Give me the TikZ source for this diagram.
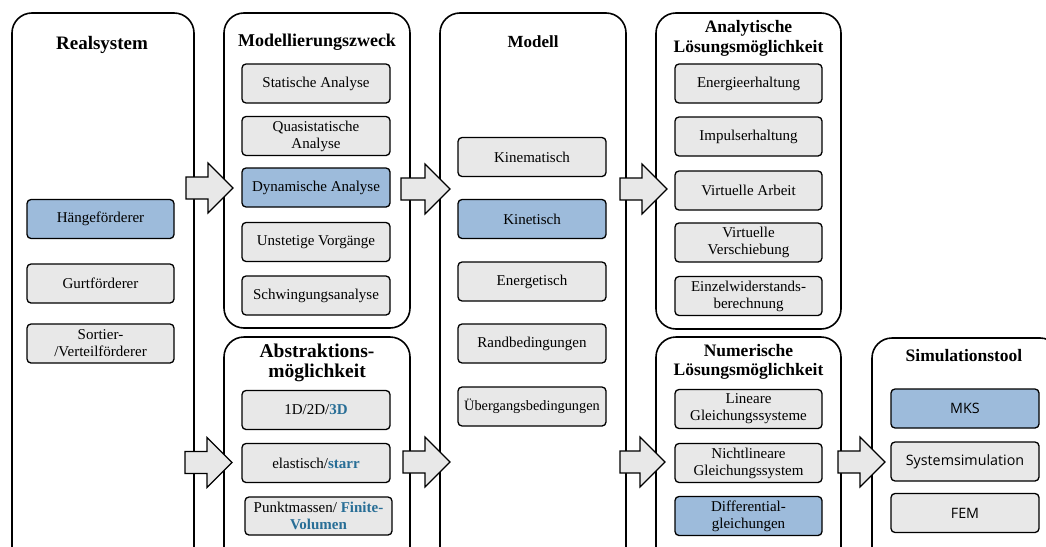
\documentclass[tikz,border=0pt]{standalone}
\usepackage{fontspec}
\setmainfont{Liberation Serif}
\newfontfamily\simfont{Open Sans}
\definecolor{boxgray}{RGB}{232,232,232}
\definecolor{boxblue}{RGB}{157,187,219}
\definecolor{txtblue}{RGB}{40,110,150}
\newcommand\blockarr[3]{%
 \draw[barr] (#1,#3-11) -- (#2-25,#3-11) -- (#2-25,#3-25) -- (#2,#3) -- (#2-25,#3+25) -- (#2-25,#3+11) -- (#1,#3+11) -- cycle;}
\begin{document}
\begin{tikzpicture}[x=1pt,y=-1pt,
 cont/.style={draw=black, line width=1.6pt, rounded corners=20pt, fill=white, inner sep=0pt},
 gbox/.style={draw=black, line width=1.3pt, rounded corners=4pt, fill=boxgray, minimum width=148pt, minimum height=39pt, align=center, font=\fontsize{15}{17}\selectfont, inner sep=1pt},
 bbox/.style={gbox, fill=boxblue},
 sbox/.style={gbox, font=\simfont\fontsize{14.3}{17}\selectfont},
 ttl/.style={font=\bfseries\fontsize{17.5}{19.5}\selectfont, align=center, inner sep=0pt},
 barr/.style={draw=black, line width=1.2pt, fill=boxgray, line join=miter}]
\useasboundingbox (0,0) rectangle (1046,546);
\clip (0,0) rectangle (1046,546);

% containers
\node[cont, minimum width=182pt, minimum height=557pt] (c1) at (103,291.5) {};
\node[cont, minimum width=186pt, minimum height=315pt] (c2) at (317,170.5) {};
\node[cont, minimum width=186pt, minimum height=233pt] (c3) at (317,453.5) {};
\node[cont, minimum width=186pt, minimum height=557pt] (c4) at (533,291.5) {};
\node[cont, minimum width=185pt, minimum height=316pt] (c5) at (748.5,171) {};
\node[cont, minimum width=185pt, minimum height=233pt] (c6) at (748.5,453.5) {};
\node[cont, minimum width=188pt, minimum height=232pt] (c7) at (966,454) {};

% titles
\node[ttl, font=\bfseries\fontsize{19}{20}\selectfont] (t1) at (102,45) {Realsystem};
\node[ttl, font=\bfseries\fontsize{18}{20}\selectfont] (t2) at (317,42) {Modellierungszweck};
\node[ttl, font=\bfseries\fontsize{19.5}{20}\selectfont] (t3) at (317,363) {Abstraktions-\\möglichkeit};
\node[ttl, font=\bfseries\fontsize{17}{20}\selectfont] (t4) at (533,42) {Modell};
\node[ttl] (t5) at (748.5,38.5) {Analytische\\Lösungsmöglichkeit};
\node[ttl] (t6) at (748.5,362) {Numerische\\Lösungsmöglichkeit};
\node[ttl] (t7) at (964,356) {Simulationstool};

% Realsystem
\node[bbox, minimum width=147pt] (r1) at (100.5,219) {Hängeförderer};
\node[gbox, minimum width=147pt] (r2) at (100.5,283.5) {Gurtförderer};
\node[gbox, minimum width=147pt] (r3) at (100.5,343.5) {Sortier-\\/Verteilförderer};

% Modellierungszweck
\node[gbox] (m1) at (316,83.5) {Statische Analyse};
\node[gbox] (m2) at (316,136) {Quasistatische\\Analyse};
\node[bbox] (m3) at (316,187.5) {Dynamische Analyse};
\node[gbox] (m4) at (316,242) {Unstetige Vorgänge};
\node[gbox] (m5) at (316,295.5) {Schwingungsanalyse};

% Abstraktion
\node[gbox] (a1) at (316,410) {1D/2D/\textcolor{txtblue}{\bfseries 3D}};
\node[gbox] (a2) at (316,463) {elastisch/\textcolor{txtblue}{\bfseries starr}};
\node[gbox, minimum width=147pt, minimum height=38pt] (a3) at (318.5,516) {Punktmassen/ \textcolor{txtblue}{\bfseries Finite-}\\\textcolor{txtblue}{\bfseries Volumen}};

% Modell
\node[gbox] (k1) at (532,157) {Kinematisch};
\node[bbox] (k2) at (532,219) {Kinetisch};
\node[gbox] (k3) at (532,281.5) {Energetisch};
\node[gbox] (k4) at (532,343.5) {Randbedingungen};
\node[gbox, font=\fontsize{14.3}{17}\selectfont] (k5) at (532,406.5) {Übergangsbedingungen};

% Analytische
\node[gbox, minimum width=147pt] (l1) at (748.5,83.5) {Energieerhaltung};
\node[gbox, minimum width=147pt] (l2) at (748.5,136.5) {Impulserhaltung};
\node[gbox, minimum width=147pt] (l3) at (748.5,190.5) {Virtuelle Arbeit};
\node[gbox, minimum width=147pt] (l4) at (748.5,242.5) {Virtuelle\\Verschiebung};
\node[gbox, minimum width=147pt] (l5) at (748.5,296) {Einzelwiderstands-\\berechnung};

% Numerische
\node[gbox, minimum width=147pt] (n1) at (748.5,409) {Lineare\\Gleichungssysteme};
\node[gbox, minimum width=147pt] (n2) at (748.5,463) {Nichtlineare\\Gleichungssystem};
\node[bbox, minimum width=147pt] (n3) at (748.5,516) {Differential-\\gleichungen};

% Simulationstool
\node[sbox, fill=boxblue] (s1) at (965,408.5) {MKS};
\node[sbox] (s2) at (965,461.5) {Systemsimulation};
\node[sbox] (s3) at (965,513) {FEM};

% block arrows
\blockarr{186}{233}{188}
\blockarr{185}{232}{462.5}
\blockarr{401}{450}{189}
\blockarr{403}{450}{462}
\blockarr{620}{667}{189}
\blockarr{620}{665}{462}
\blockarr{838}{885}{462}
\end{tikzpicture}
\end{document}
